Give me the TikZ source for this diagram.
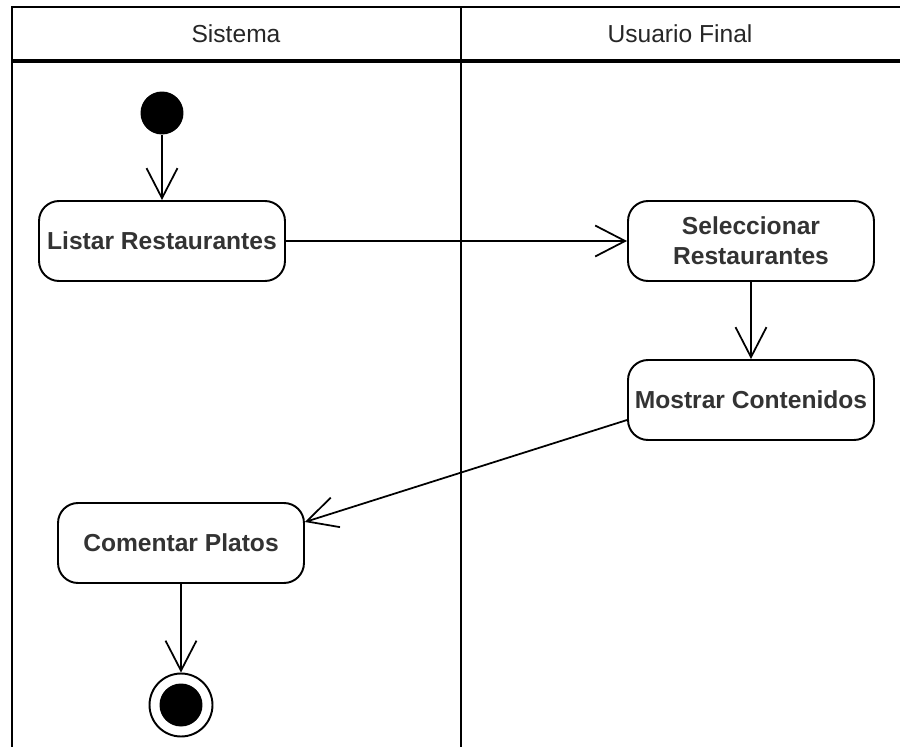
\documentclass[tikz,border=0pt]{standalone}
\usepackage{fontspec}
\setmainfont{Liberation Sans}
\usetikzlibrary{arrows.meta}

\begin{document}
\begin{tikzpicture}[x=0.02cm,y=-0.02cm]
\tikzstyle{activity}=[
  rectangle, rounded corners=0.4cm,
  draw, line width=1.1pt,
  minimum width=4.92cm, minimum height=1.6cm,
  align=center, text=black!80,
  font=\fontsize{14pt}{17pt}\selectfont\bfseries ]
\tikzstyle{lane}=[text=black!85, font=\fontsize{14pt}{17pt}\selectfont]
\tikzstyle{flow}=[-{Straight Barb[length=0.6cm,width=0.62cm]}, line width=1pt]
\useasboundingbox (0,0) rectangle (900,747);
% swimlanes
\draw[line width=1pt] (12,747) -- (12,7) -- (900,7);
\draw[line width=1pt] (461,7) -- (461,747);
\draw[line width=1.8pt] (12,61) -- (900,61);
\node[lane] (sistema) at (236,34) {Sistema};
\node[lane] (usuario) at (680,34) {Usuario Final};
% actividades
\node[circle, fill, inner sep=0, minimum size=0.86cm] (inicio) at (162,113) {};
\node[activity] (listar) at (162,241) {Listar Restaurantes};
\node[activity] (seleccionar) at (751,241) {Seleccionar\\Restaurantes};
\node[activity] (mostrar) at (751,400) {Mostrar Contenidos};
\node[activity] (comentar) at (181,543) {Comentar Platos};
\node[circle, draw, line width=1.1pt, inner sep=0, minimum size=1.26cm] (fin) at (181,705) {};
\node[circle, fill, inner sep=0, minimum size=0.86cm] (finpunto) at (fin) {};
% flujos
\draw[flow] (inicio) -- (listar);
\draw[flow] (listar) -- (seleccionar);
\draw[flow] (seleccionar) -- (mostrar);
\draw[flow] ([yshift=-0.4cm]mostrar.west) -- ([yshift=0.42cm]comentar.east);
\draw[flow] (comentar) -- (fin);
\end{tikzpicture}
\end{document}
